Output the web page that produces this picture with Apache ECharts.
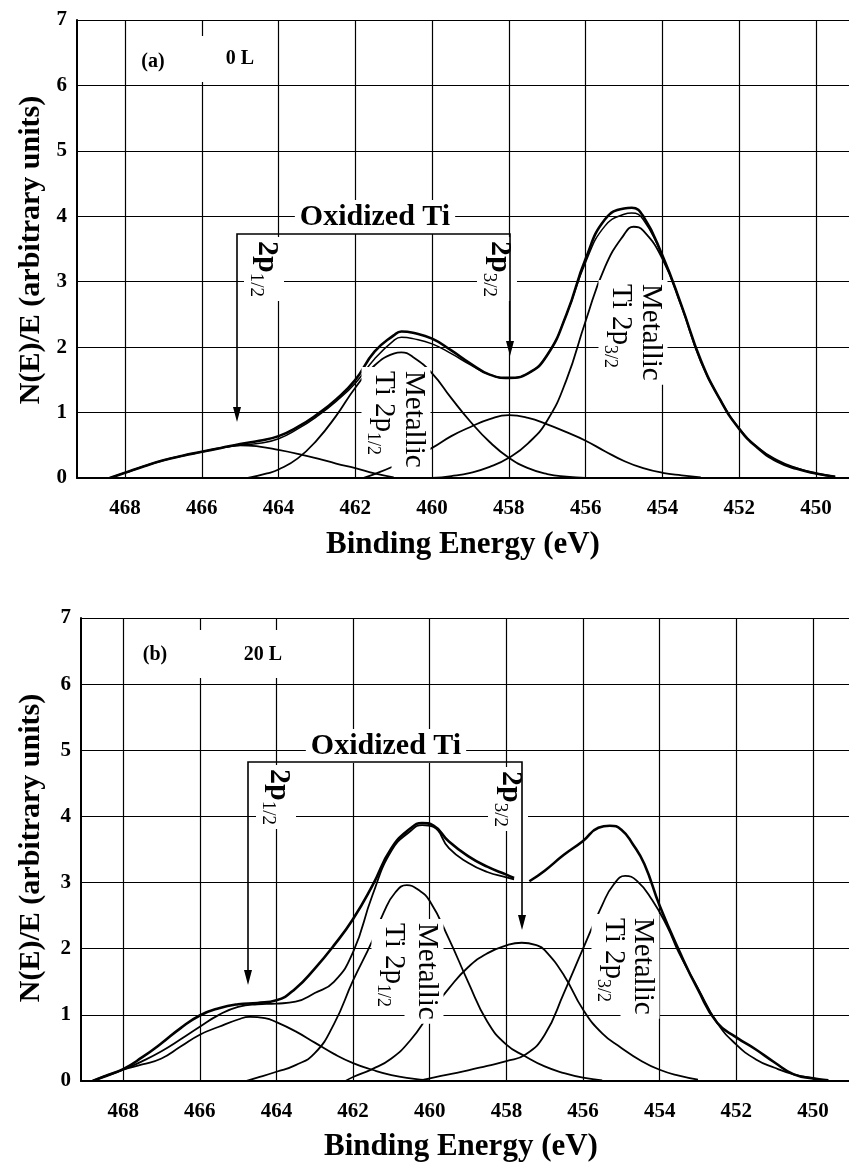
<!DOCTYPE html>
<html>
<head>
<meta charset="utf-8">
<script src="https://cdn.jsdelivr.net/npm/echarts@6/dist/echarts.min.js"></script>
<style>
  html, body { margin: 0; padding: 0; background: #fff; }
  #chart { width: 849px; height: 1165px; }
</style>
</head>
<body>
<div id="chart"></div>
<script>
// tick values
const xTicks = [450, 452, 454, 456, 458, 460, 462, 464, 466, 468];
const yMax = 7;

// panel (a) 0 L : [binding energy (eV), N(E)/E]
const aOx12 = [[468.4,0],[468,0.08],[467.5,0.18],[467,0.27],[466.5,0.34],[466,0.4],[465.5,0.46],[465,0.5],[464.5,0.48],[464,0.43],[463.5,0.37],[463,0.3],[462.5,0.22],[462,0.15],[461.5,0.07],[461,0.01]];
const aMet12 = [[464.8,0],[464.3,0.07],[464,0.13],[463.5,0.3],[463,0.58],[462.5,0.95],[462,1.38],[461.5,1.72],[461,1.9],[460.8,1.92],[460.5,1.85],[460,1.6],[459.5,1.22],[459,0.86],[458.5,0.55],[458,0.31],[457.5,0.15],[457,0.06],[456.5,0.02],[456,0]];
const aOx32 = [[461.8,0],[461.5,0.06],[461,0.18],[460.5,0.32],[460,0.46],[459.5,0.64],[459,0.78],[458.5,0.9],[458,0.96],[457.5,0.92],[457,0.82],[456.5,0.7],[456,0.57],[455.5,0.41],[455,0.26],[454.5,0.15],[454,0.08],[453.5,0.04],[453,0.01]];
const aMet32 = [[460,0],[459.5,0.03],[459,0.08],[458.5,0.17],[458,0.31],[457.5,0.53],[457,0.88],[456.5,1.5],[456,2.4],[455.5,3.22],[455,3.72],[454.75,3.84],[454.5,3.78],[454,3.35],[453.5,2.62],[453,1.78],[452.5,1.2],[452,0.76],[451.5,0.46],[451,0.27],[450.5,0.15],[450,0.07],[449.5,0.02]];
const aSum = [[468.4,0],[468,0.08],[467.5,0.18],[467,0.27],[466.5,0.34],[466,0.4],[465.5,0.46],[465,0.52],[464.5,0.57],[464,0.64],[463.5,0.78],[463,0.97],[462.5,1.2],[462,1.5],[461.5,1.93],[461,2.18],[460.8,2.24],[460.5,2.22],[460,2.13],[459.5,1.95],[459,1.75],[458.5,1.58],[458,1.53],[457.5,1.6],[457,1.88],[456.5,2.5],[456,3.35],[455.5,3.95],[455,4.12],[454.8,4.13],[454.5,4.0],[454,3.4],[453.5,2.63],[453,1.8],[452.5,1.2],[452,0.75],[451.5,0.45],[451,0.25],[450.5,0.14],[450,0.07],[449.5,0.02]];
const aData = [[465.4,0.47],[465,0.5],[464.5,0.53],[464,0.6],[463.5,0.75],[463,0.94],[462.5,1.17],[462,1.45],[461.5,1.82],[461,2.1],[460.8,2.15],[460.5,2.13],[460,2.05],[459.5,1.9],[459,1.73],[458.5,1.58],[458,1.53],[457.5,1.6],[457,1.88],[456.5,2.5],[456,3.3],[455.5,3.85],[455,4.03],[454.8,4.05],[454.5,3.95],[454,3.38]];

// panel (b) 20 L
const bOx12 = [[468.8,0],[468.5,0.07],[468,0.17],[467.5,0.25],[467,0.34],[466.5,0.52],[466,0.7],[465.5,0.82],[465,0.93],[464.7,0.97],[464.3,0.95],[464,0.89],[463.5,0.75],[463,0.58],[462.5,0.41],[462,0.27],[461.5,0.17],[461,0.09],[460.5,0.04],[460,0.01]];
const bMet12 = [[464.8,0],[464.5,0.05],[464,0.14],[463.5,0.24],[463,0.42],[462.5,0.86],[462,1.52],[461.5,2.12],[461.2,2.55],[460.9,2.85],[460.6,2.96],[460.3,2.89],[460,2.72],[459.5,2.15],[459,1.5],[458.5,0.9],[458,0.55],[457.5,0.37],[457,0.22],[456.5,0.12],[456,0.05],[455.5,0.01]];
const bOx32 = [[462.2,0],[462,0.06],[461.5,0.18],[461,0.34],[460.5,0.62],[460,1.02],[459.5,1.4],[459,1.72],[458.5,1.93],[458,2.05],[457.6,2.09],[457.2,2.05],[457,1.98],[456.5,1.6],[456,1.08],[455.5,0.72],[455,0.5],[454.5,0.31],[454,0.17],[453.5,0.08],[453,0.02]];
const bMet32 = [[460.3,0],[460,0.04],[459.5,0.1],[459,0.16],[458.5,0.23],[458,0.3],[457.5,0.4],[457,0.7],[456.5,1.33],[456,2.0],[455.5,2.66],[455.2,2.97],[454.9,3.1],[454.6,3.03],[454.2,2.74],[453.8,2.33],[453.5,1.94],[453,1.4],[452.5,0.88],[452,0.55],[451.5,0.33],[451,0.2],[450.5,0.1],[450,0.04],[449.6,0.01]];
const bData = [[468.8,0],[468.5,0.07],[468,0.18],[467.5,0.36],[467,0.57],[466.5,0.8],[466,0.99],[465.5,1.1],[465,1.16],[464.5,1.18],[464,1.22],[463.5,1.4],[463,1.7],[462.5,2.05],[462,2.45],[461.5,2.95],[461,3.52],[460.5,3.82],[460.2,3.9],[459.9,3.86],[459.5,3.62],[459,3.4],[458.5,3.24],[458,3.12],[457.8,3.07],[457.6,null],[457.4,3.02],[457,3.18],[456.5,3.42],[456,3.63],[455.6,3.83],[455.3,3.86],[455,3.8],[454.7,3.58],[454.4,3.28],[454,2.65],[453.5,1.98],[453,1.38],[452.5,0.88],[452,0.66],[451.5,0.48],[451,0.28],[450.5,0.1],[450,0.04],[449.6,0.01]];
const bSum = [[468.8,0],[468.5,0.06],[468,0.17],[467.5,0.3],[467,0.45],[466.5,0.63],[466,0.82],[465.5,1.0],[465,1.12],[464.5,1.16],[464,1.17],[463.5,1.2],[463,1.33],[462.5,1.5],[462,1.95],[461.5,2.8],[461,3.48],[460.5,3.78],[460.2,3.87],[459.9,3.84],[459.5,3.52],[459,3.3],[458.5,3.16],[458,3.08],[457.8,3.05]];

const FONT = '"Liberation Serif", "Times New Roman", serif';

function curve(data, gi, width) {
  return {
    type: 'line', xAxisIndex: gi, yAxisIndex: gi, data: data,
    smooth: 0.5, showSymbol: false, symbol: 'none', connectNulls: false,
    lineStyle: { color: '#000', width: width }, silent: true, z: 3
  };
}
// vertical grid lines at the energy ticks
function vGrid(gi) {
  return {
    type: 'line', xAxisIndex: gi, yAxisIndex: gi, data: [], silent: true, z: 1,
    markLine: {
      silent: true, symbol: 'none', animation: false, label: { show: false },
      lineStyle: { color: '#000', width: 1.2, type: 'solid' },
      data: xTicks.map(function (v) { return { xAxis: v }; })
    }
  };
}
function xAx(gi, min, max) {
  return {
    type: 'value', gridIndex: gi, inverse: true, min: min, max: max,
    axisLine: { show: true, onZero: false, lineStyle: { color: '#000', width: 2 } },
    axisTick: { show: false, customValues: xTicks },
    splitLine: { show: false },
    axisLabel: { customValues: xTicks, color: '#000', fontFamily: FONT, fontWeight: 'bold', fontSize: 21, margin: 20 }
  };
}
function yAx(gi) {
  return {
    type: 'value', gridIndex: gi, min: 0, max: yMax, interval: 1,
    axisLine: { show: true, onZero: false, lineStyle: { color: '#000', width: 2 } },
    axisTick: { show: false },
    splitLine: { show: true, lineStyle: { color: '#000', width: 1.2 } },
    axisLabel: { color: '#000', fontFamily: FONT, fontWeight: 'bold', fontSize: 21, margin: 10 }
  };
}

// text helpers
function txt(x, y, text, font, rot, bg) {
  return {
    type: 'text', x: x, y: y, rotation: rot || 0, z: 100, silent: true,
    style: {
      text: text, font: font, fill: '#000',
      textAlign: 'center', align: 'center', textVerticalAlign: 'middle', verticalAlign: 'middle',
      backgroundColor: bg ? '#fff' : null, padding: bg ? [2, 5] : 0
    }
  };
}
// rotated (reading downwards) label starting at y, column centred on x
function vlab(x, y, main, sub, size, bold) {
  const w = bold ? 'bold' : 'normal';
  return {
    type: 'text', x: x, y: y, rotation: -Math.PI / 2, z: 100, silent: true,
    style: {
      text: sub ? '{m|' + main + '}{s|' + sub + '}' : '{m|' + main + '}',
      fill: '#000', textAlign: 'left', align: 'left',
      textVerticalAlign: 'middle', verticalAlign: 'middle',
      backgroundColor: '#fff', padding: [2, 4],
      rich: {
        m: { fontFamily: FONT, fontSize: size, fontWeight: w, fill: '#000', verticalAlign: 'bottom', padding: [0, 0, 6, 0] },
        s: { fontFamily: FONT, fontSize: Math.round(size * 0.62), fill: '#000', verticalAlign: 'bottom' }
      }
    }
  };
}
function bracket(xl, xr, yTop, tipL, tipR) {
  return [
    { type: 'polyline', z: 101, silent: true,
      shape: { points: [[xl, tipL - 12], [xl, yTop], [xr, yTop], [xr, tipR - 12]] },
      style: { stroke: '#000', lineWidth: 1.6, fill: null } },
    { type: 'polygon', z: 101, silent: true,
      shape: { points: [[xl - 4, tipL - 15], [xl + 4, tipL - 15], [xl, tipL]] }, style: { fill: '#000' } },
    { type: 'polygon', z: 101, silent: true,
      shape: { points: [[xr - 4, tipR - 15], [xr + 4, tipR - 15], [xr, tipR]] }, style: { fill: '#000' } }
  ];
}

const chart = echarts.init(document.getElementById('chart'));

const option = {
  animation: false,
  backgroundColor: '#fff',
  grid: [
    { left: 77, top: 20, right: 0, height: 458 },
    { left: 81, top: 618, right: 0, height: 463 }
  ],
  xAxis: [xAx(0, 449.14, 469.25), xAx(1, 449.06, 469.1)],
  yAxis: [yAx(0), yAx(1)],
  series: [
    vGrid(0), vGrid(1),
    curve(aOx12, 0, 1.8), curve(aMet12, 0, 1.8), curve(aOx32, 0, 1.8), curve(aMet32, 0, 1.8),
    curve(aData, 0, 1.5), curve(aSum, 0, 2.6),
    curve(bOx12, 1, 1.8), curve(bMet12, 1, 1.8), curve(bOx32, 1, 1.8), curve(bMet32, 1, 1.8),
    curve(bSum, 1, 1.8), curve(bData, 1, 2.6)
  ],
  graphic: [
    // axis titles
    txt(31, 250, 'N(E)/E (arbitrary units)', 'bold 30px ' + FONT, Math.PI / 2),
    txt(463, 545, 'Binding Energy (eV)', 'bold 31px ' + FONT, 0),
    txt(31, 848, 'N(E)/E (arbitrary units)', 'bold 30px ' + FONT, Math.PI / 2),
    txt(461, 1147, 'Binding Energy (eV)', 'bold 31px ' + FONT, 0),

    // panel (a)
    { type: 'rect', z: 99, silent: true, shape: { x: 130, y: 36, width: 138, height: 46 }, style: { fill: '#fff' } },
    txt(153, 62, '(a)', 'bold 20px ' + FONT, 0),
    txt(240, 59, '0 L', 'bold 20px ' + FONT, 0),
    txt(375, 217, 'Oxidized Ti', 'bold 30px ' + FONT, 0, true),
    vlab(264, 237, '2p', '1/2', 30, true),
    vlab(497, 237, '2p', '3/2', 30, true),
    vlab(411, 367, 'Metallic', null, 29, false),
    vlab(381, 367, 'Ti 2p', '1/2', 29, false),
    vlab(648, 280, 'Metallic', null, 29, false),
    vlab(618, 280, 'Ti 2p', '3/2', 29, false)
  ].concat(bracket(237, 510, 234, 422, 356)).concat([
    // panel (b)
    { type: 'rect', z: 99, silent: true, shape: { x: 130, y: 630, width: 170, height: 48 }, style: { fill: '#fff' } },
    txt(155, 655, '(b)', 'bold 20px ' + FONT, 0),
    txt(263, 655, '20 L', 'bold 20px ' + FONT, 0),
    txt(386, 746, 'Oxidized Ti', 'bold 30px ' + FONT, 0, true),
    vlab(276, 765, '2p', '1/2', 30, true),
    vlab(508, 767, '2p', '3/2', 30, true),
    vlab(424, 919, 'Metallic', null, 29, false),
    vlab(391, 919, 'Ti 2p', '1/2', 29, false),
    vlab(640, 914, 'Metallic', null, 29, false),
    vlab(611, 914, 'Ti 2p', '3/2', 29, false)
  ]).concat(bracket(248, 522, 762, 985, 930))
};

chart.setOption(option);
</script>
</body>
</html>
